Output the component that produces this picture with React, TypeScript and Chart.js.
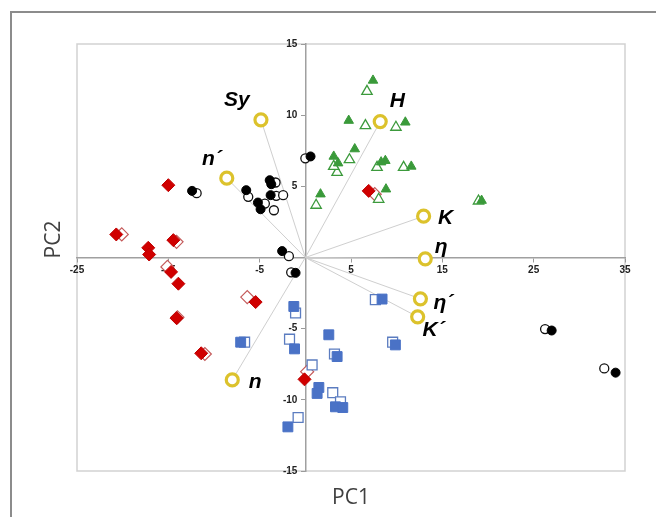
import React, { useEffect, useRef } from 'react';
import { Chart, registerables } from 'chart.js';

Chart.register(...registerables);

// ---- Data ----
const xTicks = [-25, -15, -5, 5, 15, 25, 35];
const yTicks = [-15, -10, -5, 5, 10, 15];

const blackFilled: [number, number][] = [
  [-12.4, 4.68], [-6.47, 4.73], [-3.9, 5.43], [-3.73, 5.15], [-3.8, 4.38],
  [-5.19, 3.86], [-4.9, 3.39], [-2.54, 0.45], [-1.07, -1.08], [0.57, 7.1],
  [26.97, -5.13], [33.97, -8.09],
];
const blackOpen: [number, number][] = [
  [-11.9, 4.52], [-6.25, 4.26], [-3.26, 5.27], [-3.19, 4.33], [-2.43, 4.38],
  [-4.43, 3.79], [-3.44, 3.32], [-1.8, 0.09], [-1.55, -1.04], [0.0, 6.97],
  [26.25, -5.03], [32.73, -7.79],
];
const redFilled: [number, number][] = [
  [-15.0, 5.08], [-20.7, 1.62], [-14.45, 1.22], [-17.2, 0.68], [-17.1, 0.21],
  [-14.7, -1.01], [-13.9, -1.84], [-14.1, -4.26], [-5.44, -3.13], [-11.4, -6.73],
  [6.94, 4.68], [-0.09, -8.56],
];
const redOpen: [number, number][] = [
  [-20.1, 1.62], [-14.1, 1.1], [-15.1, -0.66], [-14.0, -4.2], [-6.36, -2.78],
  [-11.0, -6.78], [7.6, 4.45], [0.2, -8.02],
];
const greenFilled: [number, number][] = [
  [7.41, 12.44], [4.75, 9.62], [10.95, 9.5], [5.41, 7.62], [3.11, 7.1],
  [3.59, 6.63], [8.76, 6.8], [8.3, 6.7], [11.6, 6.4], [1.66, 4.45],
  [8.83, 4.8], [19.3, 4.0],
];
const greenOpen: [number, number][] = [
  [6.75, 11.67], [6.58, 9.27], [9.92, 9.15], [4.83, 6.87], [3.48, 5.98],
  [3.11, 6.4], [7.85, 6.33], [10.76, 6.33], [1.18, 3.67], [8.03, 4.09],
  [18.96, 3.97],
];
const blueFilled: [number, number][] = [
  [-1.26, -3.44], [-1.18, -6.42], [2.57, -5.43], [3.48, -6.96], [1.48, -9.13],
  [1.29, -9.55], [3.3, -10.49], [4.1, -10.54], [-1.91, -11.9], [8.4, -2.92],
  [9.86, -6.14], [-7.08, -5.95],
];
const blueOpen: [number, number][] = [
  [-1.07, -3.9], [-1.73, -5.74], [3.19, -6.78], [0.74, -7.55], [3.0, -9.5],
  [3.85, -10.14], [-0.79, -11.24], [7.67, -2.96], [9.56, -5.95], [-6.65, -5.95],
];

const vectorLabels = ['Sy', 'n\u00B4', 'H', 'K', '\u03B7', '\u03B7\u00B4', 'K\u00B4', 'n'];
const vectorX = [-4.86, -8.6, 8.2, 12.95, 13.13, 12.6, 12.3, -8.0];
const vectorY = [9.67, 5.57, 9.55, 2.9, -0.09, -2.9, -4.17, -8.6];

// label offsets (px) relative to each loading marker
const labelOffsets: [number, number][] = [
  [-24, -20], [-15, -19], [17, -20], [22, 2], [16, -12], [23, 4], [16, 13], [23, 2],
];

const toPts = (arr: [number, number][]) => arr.map(([x, y]) => ({ x, y }));

const TICK_FONT = 'bold 10px "Liberation Sans", Arial, sans-serif';

const framePlugin = {
  id: 'frame',
  beforeDraw(chart: any) {
    const { ctx, chartArea } = chart;
    ctx.save();
    ctx.fillStyle = '#ffffff';
    ctx.fillRect(0, 0, chart.width, chart.height);
    // outer frame (left + top)
    ctx.strokeStyle = '#8c8c8c';
    ctx.lineWidth = 2;
    ctx.beginPath();
    ctx.moveTo(11, chart.height);
    ctx.lineTo(11, 12);
    ctx.lineTo(chart.width, 12);
    ctx.stroke();
    // plot area border
    ctx.strokeStyle = '#d2d2d2';
    ctx.lineWidth = 1.5;
    ctx.strokeRect(chartArea.left, chartArea.top, chartArea.right - chartArea.left, chartArea.bottom - chartArea.top);
    ctx.restore();
  },
  afterDraw(chart: any) {
    const { ctx, chartArea } = chart;
    ctx.save();
    // y tick labels, left of the vertical axis
    const xs = chart.scales.x;
    const ys = chart.scales.y;
    const axisX = xs.getPixelForValue(0);
    ctx.fillStyle = '#222222';
    ctx.font = TICK_FONT;
    ctx.textAlign = 'right';
    ctx.textBaseline = 'middle';
    ys.ticks.forEach((t: any) => {
      ctx.fillText(String(t.value), axisX - 8, ys.getPixelForValue(t.value));
    });
    // axis titles
    ctx.fillStyle = '#404040';
    ctx.font = '21px "Open Sans", "Noto Sans", sans-serif';
    ctx.textAlign = 'center';
    ctx.textBaseline = 'middle';
    ctx.fillText('PC1', (chartArea.left + chartArea.right) / 2, chartArea.bottom + 27);
    ctx.translate(54, (chartArea.top + chartArea.bottom) / 2 - 18);
    ctx.rotate(-Math.PI / 2);
    ctx.fillText('PC2', 0, 0);
    ctx.restore();
  },
};

const labelPlugin = {
  id: 'vecLabels',
  afterDatasetsDraw(chart: any) {
    const idx = chart.data.datasets.findIndex((d: any) => d.label === 'loadings');
    if (idx < 0) return;
    const meta = chart.getDatasetMeta(idx);
    const { ctx } = chart;
    ctx.save();
    ctx.fillStyle = '#000000';
    ctx.font = 'italic bold 21px "Liberation Sans", Arial, sans-serif';
    ctx.textAlign = 'center';
    ctx.textBaseline = 'middle';
    meta.data.forEach((el: any, i: number) => {
      const [dx, dy] = labelOffsets[i];
      ctx.fillText(vectorLabels[i], el.x + dx, el.y + dy);
    });
    ctx.restore();
  },
};

export default function App() {
  const ref = useRef<HTMLCanvasElement | null>(null);

  useEffect(() => {
    if (!ref.current) return;

    const vectorLines = vectorX.map((vx, i) => ({
      label: 'vec' + i,
      data: [{ x: 0, y: 0 }, { x: vx, y: vectorY[i] }],
      showLine: true,
      borderColor: '#cfcfcf',
      borderWidth: 1,
      pointRadius: 0,
      order: 20,
    }));

    const chart = new Chart(ref.current, {
      type: 'scatter',
      data: {
        datasets: [
          ...vectorLines,
          {
            label: 'blackOpen', data: toPts(blackOpen), pointStyle: 'circle', pointRadius: 4.5,
            backgroundColor: '#ffffff', borderColor: '#111111', borderWidth: 1.3, order: 9,
          },
          {
            label: 'blackFilled', data: toPts(blackFilled), pointStyle: 'circle', pointRadius: 4.5,
            backgroundColor: '#000000', borderColor: '#000000', borderWidth: 1, order: 8,
          },
          {
            label: 'redOpen', data: toPts(redOpen), pointStyle: 'rectRot', pointRadius: 6.5,
            backgroundColor: '#ffffff', borderColor: '#c45a5a', borderWidth: 1.2, order: 7,
          },
          {
            label: 'redFilled', data: toPts(redFilled), pointStyle: 'rectRot', pointRadius: 6.5,
            backgroundColor: '#d00000', borderColor: '#c00000', borderWidth: 1, order: 6,
          },
          {
            label: 'greenOpen', data: toPts(greenOpen), pointStyle: 'triangle', pointRadius: 6,
            backgroundColor: '#ffffff', borderColor: '#3c9a3c', borderWidth: 1.3, order: 5,
          },
          {
            label: 'greenFilled', data: toPts(greenFilled), pointStyle: 'triangle', pointRadius: 5.5,
            backgroundColor: '#3a9a3a', borderColor: '#3a9a3a', borderWidth: 1, order: 4,
          },
          {
            label: 'blueOpen', data: toPts(blueOpen), pointStyle: 'rect', pointRadius: 7,
            backgroundColor: '#ffffff', borderColor: '#5b7cc0', borderWidth: 1.3, order: 3,
          },
          {
            label: 'blueFilled', data: toPts(blueFilled), pointStyle: 'rect', pointRadius: 7,
            backgroundColor: '#4a72c6', borderColor: '#4a72c6', borderWidth: 1, order: 2,
          },
          {
            label: 'loadings',
            data: vectorX.map((vx, i) => ({ x: vx, y: vectorY[i] })),
            pointStyle: 'circle', pointRadius: 6,
            backgroundColor: '#ffffff', borderColor: '#dcc22c', borderWidth: 3.2, order: 1,
          },
        ],
      },
      options: {
        responsive: false,
        animation: false,
        devicePixelRatio: 1,
        layout: { padding: { left: 77, top: 44, right: 31, bottom: 46 } },
        plugins: {
          legend: { display: false },
          tooltip: { enabled: false },
          title: { display: false },
        },
        scales: {
          x: {
            type: 'linear',
            min: -25,
            max: 35,
            position: { y: 0 } as any,
            afterBuildTicks: (scale: any) => {
              scale.ticks = xTicks.map((v) => ({ value: v }));
            },
            grid: { display: true, drawOnChartArea: false, drawTicks: true, tickLength: 4, color: '#9a9a9a' },
            border: { display: true, color: '#a0a0a0', width: 1.5 },
            ticks: {
              autoSkip: false,
              maxRotation: 0,
              padding: 3,
              color: '#222222',
              font: { family: '"Liberation Sans", Arial, sans-serif', size: 10, weight: 'bold' },
            },
          },
          y: {
            type: 'linear',
            min: -15,
            max: 15,
            position: { x: 0 } as any,
            afterBuildTicks: (scale: any) => {
              scale.ticks = yTicks.map((v) => ({ value: v }));
            },
            grid: { display: true, drawOnChartArea: false, drawTicks: true, tickLength: 4, color: '#9a9a9a' },
            border: { display: true, color: '#a0a0a0', width: 1.5 },
            ticks: { display: false, autoSkip: false },
          },
        },
      },
      plugins: [framePlugin, labelPlugin],
    });

    return () => chart.destroy();
  }, []);

  return (
    <div style={{ position: 'fixed', left: 0, top: 0, width: 656, height: 517, background: '#fff' }}>
      <canvas ref={ref} width={656} height={517} style={{ display: 'block' }} />
    </div>
  );
}
